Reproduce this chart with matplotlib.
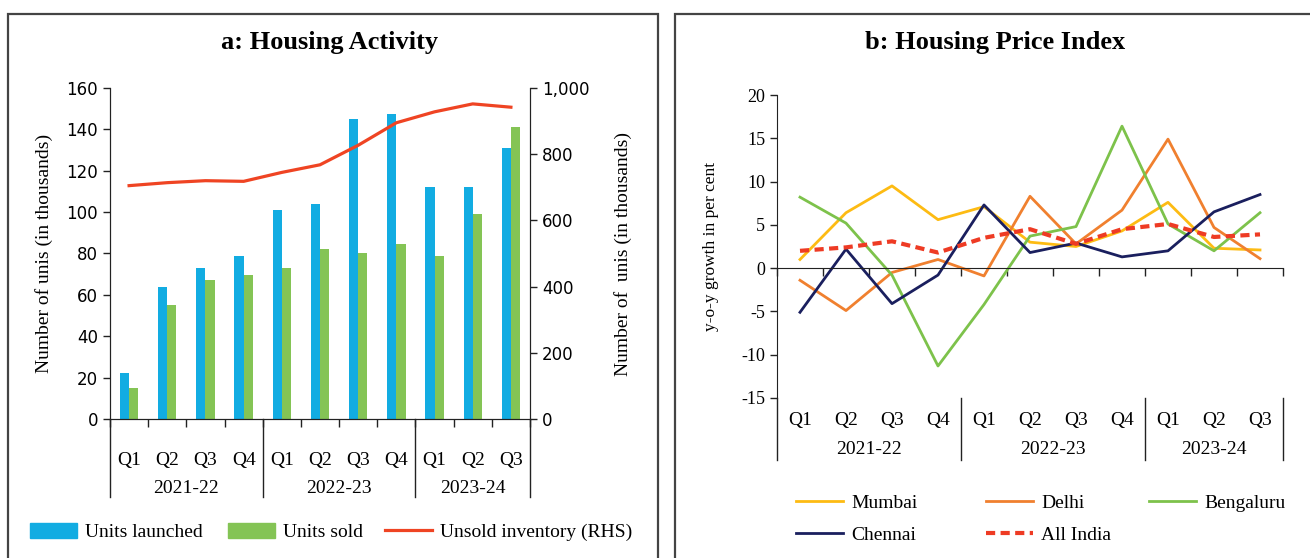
import matplotlib
matplotlib.use("Agg")
import matplotlib.pyplot as plt
import numpy as np
from matplotlib.patches import Rectangle, Patch
from matplotlib.lines import Line2D
from matplotlib.ticker import FuncFormatter

plt.rcParams['font.family'] = ['Liberation Serif', 'DejaVu Serif']
plt.rcParams['axes.unicode_minus'] = False

# ---------------- data ----------------
quarters = ["Q1", "Q2", "Q3", "Q4", "Q1", "Q2", "Q3", "Q4", "Q1", "Q2", "Q3"]
years = ["2021-22", "2022-23", "2023-24"]
year_sizes = [4, 4, 3]

units_launched = [22, 64, 73, 79, 101, 104, 145, 147.5, 112, 112, 131]
units_sold = [15, 55, 67, 69.5, 73, 82, 80, 84.5, 79, 99, 141]
unsold_inventory = [705, 714, 720, 718, 745, 768, 827, 895, 928, 952, 942]

mumbai = [1.0, 6.4, 9.5, 5.6, 7.1, 3.0, 2.5, 4.3, 7.6, 2.3, 2.1]
delhi = [-1.4, -4.9, -0.5, 1.0, -0.9, 8.3, 2.8, 6.7, 14.9, 4.7, 1.1]
bengaluru = [8.2, 5.2, -0.8, -11.3, -4.2, 3.7, 4.8, 16.4, 5.1, 2.0, 6.4]
chennai = [-5.1, 2.2, -4.1, -0.8, 7.3, 1.8, 2.9, 1.3, 2.0, 6.5, 8.5]
all_india = [2.0, 2.4, 3.1, 1.8, 3.5, 4.5, 2.8, 4.5, 5.1, 3.6, 3.9]

# ---------------- styling ----------------
C_BLUE = "#12ACE2"
C_GREEN = "#84C455"
C_RED = "#EF4423"
C_MUM = "#FDBB13"
C_DEL = "#F0802F"
C_BEN = "#7DC24B"
C_CHE = "#1A1F5E"
C_IND = "#EE3B24"
AXC = "#222222"
DASH = (0, (2.2, 1.3))

W, H = 1310, 558
fig = plt.figure(figsize=(W / 100, H / 100), dpi=100)

def fx(px):
    return px / W

def fy(py):
    return 1 - py / H

# panel borders
fig.add_artist(Rectangle((fx(8), fy(600)), fx(658) - fx(8), fy(14) - fy(600),
                         transform=fig.transFigure, fill=False, ec="#444444", lw=1.6))
fig.add_artist(Rectangle((fx(675), fy(600)), fx(1400) - fx(675), fy(14) - fy(600),
                         transform=fig.transFigure, fill=False, ec="#444444", lw=1.6))

fig.text(fx(330), fy(43), "a: Housing Activity", ha="center", va="center",
         fontsize=19, fontweight="bold")
fig.text(fx(995), fy(43), "b: Housing Price Index", ha="center", va="center",
         fontsize=19, fontweight="bold")

x = np.arange(len(quarters))

def draw_categories(ax, q_y, y_y, sep_bottom, fs):
    tr = ax.get_xaxis_transform()
    for xi, q in zip(x, quarters):
        ax.text(xi, q_y, q, transform=tr, ha="center", va="center", fontsize=fs)
    start = 0
    bounds = [-0.5]
    for yr, n in zip(years, year_sizes):
        mid = start + (n - 1) / 2
        ax.text(mid, y_y, yr, transform=tr, ha="center", va="center", fontsize=fs)
        start += n
        bounds.append(start - 0.5)
    for b in bounds:
        ax.plot([b, b], [0, sep_bottom], transform=tr, color=AXC, lw=1.0, clip_on=False)

def put_legend(handle, label, px, py, hl):
    fig.legend([handle], [label], loc="center left", bbox_to_anchor=(fx(px), fy(py)),
               frameon=False, fontsize=14, handlelength=hl, handleheight=0.8,
               handletextpad=0.45, borderpad=0, borderaxespad=0)

# ---------------- left panel ----------------
ax1 = fig.add_axes([fx(110), fy(419), fx(530) - fx(110), fy(88) - fy(419)])
bw = 0.24
ax1.bar(x - bw / 2, units_launched, width=bw, color=C_BLUE, label="Units launched")
ax1.bar(x + bw / 2, units_sold, width=bw, color=C_GREEN, label="Units sold")
ax1.set_xlim(-0.5, len(x) - 0.5)
ax1.set_ylim(0, 160)
ax1.set_yticks(np.arange(0, 161, 20))
ax1.set_xticks(np.arange(-0.5, len(x), 1.0))
ax1.set_xticklabels([])
ax1.tick_params(axis="x", direction="out", length=6, color=AXC, width=1)
ax1.tick_params(axis="y", direction="out", length=5, color=AXC, width=1)
for t in ax1.get_yticklabels():
    t.set_family(["DejaVu Sans"])
    t.set_fontsize(12)
ax1.spines["top"].set_visible(False)
for s in ["left", "bottom", "right"]:
    ax1.spines[s].set_color(AXC)
ax1.set_ylabel("Number of unis (in thousands)", fontsize=14, labelpad=10)

ax1r = ax1.twinx()
ax1r.plot(x, unsold_inventory, color=C_RED, lw=2.3, label="Unsold inventory (RHS)")
ax1r.set_ylim(0, 1000)
ax1r.set_yticks(np.arange(0, 1001, 200))
ax1r.yaxis.set_major_formatter(FuncFormatter(lambda v, p: f"{int(v):,}"))
ax1r.tick_params(axis="y", direction="out", length=5, color=AXC, width=1)
for t in ax1r.get_yticklabels():
    t.set_family(["DejaVu Sans"])
    t.set_fontsize(12)
ax1r.spines["top"].set_visible(False)
for s in ["left", "bottom", "right"]:
    ax1r.spines[s].set_color(AXC)
ax1r.set_ylabel("Number of  unis (in thousands)", fontsize=14, labelpad=18)

draw_categories(ax1, -41 / 331, -69 / 331, -78 / 331, 14)

put_legend(Patch(color=C_BLUE), "Units launched", 30, 532, 2.4)
put_legend(Patch(color=C_GREEN), "Units sold", 228, 532, 2.4)
put_legend(Line2D([], [], color=C_RED, lw=2.3), "Unsold inventory (RHS)", 385, 532, 2.4)

# ---------------- right panel ----------------
ax2 = fig.add_axes([fx(777), fy(398), fx(1283) - fx(777), fy(95) - fy(398)])
ax2.plot(x, mumbai, color=C_MUM, lw=2.0, label="Mumbai")
ax2.plot(x, delhi, color=C_DEL, lw=2.0, label="Delhi")
ax2.plot(x, bengaluru, color=C_BEN, lw=2.0, label="Bengaluru")
ax2.plot(x, chennai, color=C_CHE, lw=2.0, label="Chennai")
ax2.plot(x, all_india, color=C_IND, lw=3.0, ls=DASH, label="All India")
ax2.set_xlim(-0.5, len(x) - 0.5)
ax2.set_ylim(-15, 20)
ax2.set_yticks(np.arange(-15, 21, 5))
ax2.yaxis.set_major_formatter(FuncFormatter(lambda v, p: f"{int(v)}"))
ax2.tick_params(axis="y", direction="out", length=5, color=AXC, width=1, labelsize=13)
ax2.spines["top"].set_visible(False)
ax2.spines["right"].set_visible(False)
ax2.spines["bottom"].set_position(("data", 0))
ax2.spines["bottom"].set_color(AXC)
ax2.spines["left"].set_color(AXC)
ax2.set_xticks(np.arange(-0.5, len(x), 1.0))
ax2.set_xticklabels([])
ax2.tick_params(axis="x", direction="out", length=6, color=AXC, width=1)
ax2.set_ylabel("y-o-y growth in per cent", fontsize=12.5, labelpad=16)

draw_categories(ax2, -22 / 303, -52 / 303, -62 / 303, 14)

put_legend(Line2D([], [], color=C_MUM, lw=2.0), "Mumbai", 796, 503, 2.4)
put_legend(Line2D([], [], color=C_DEL, lw=2.0), "Delhi", 986, 503, 2.4)
put_legend(Line2D([], [], color=C_BEN, lw=2.0), "Bengaluru", 1149, 503, 2.4)
put_legend(Line2D([], [], color=C_CHE, lw=2.0), "Chennai", 796, 535, 2.4)
put_legend(Line2D([], [], color=C_IND, lw=3.0, ls=DASH), "All India", 986, 535, 2.4)

fig.savefig("out.png", dpi=100)
